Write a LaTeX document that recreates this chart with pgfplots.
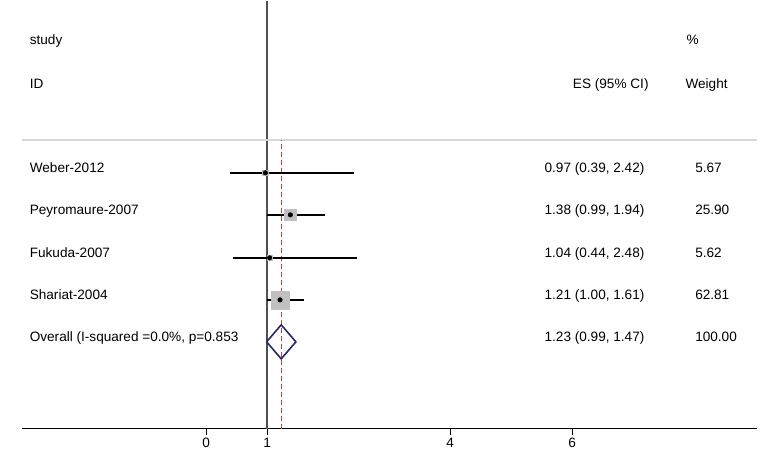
\documentclass[border=0pt]{standalone}
\usepackage{fontspec}
\setmainfont{Liberation Sans}
\usepackage{pgfplots}
\pgfplotsset{compat=1.18}
\usepackage{pgfplotstable}

\definecolor{boxgrey}{RGB}{192,192,192}
\definecolor{refline}{RGB}{80,80,80}
\definecolor{dashred}{RGB}{175,70,70}
\definecolor{diamond}{RGB}{40,40,100}
\definecolor{sepgrey}{RGB}{215,215,215}

\newcommand\fs{\fontsize{13.6pt}{16pt}\selectfont}

% studies: row height, estimate, 95% CI, weight
\pgfplotstableread{
y   es   lo   hi   w
256 0.97 0.39 2.42 5.67
214 1.38 0.99 1.94 25.90
171 1.04 0.44 2.48 5.62
129 1.21 1.00 1.61 62.81
}\studies

\begin{document}
\begin{tikzpicture}
\begin{axis}[
    scale only axis,
    width=735pt, height=428pt,
    xmin=-3.02, xmax=9.03,
    ymin=0, ymax=428,
    axis x line*=bottom,
    axis y line=none,
    xtick={0,1,4,6},
    tick align=outside,
    major tick length=6pt,
    x axis line style={black, line width=1pt},
    every tick/.style={black, line width=1pt},
    xticklabel style={font=\fs},
    /pgf/number format/assume math mode=true,
    clip=false,
]
% reference line at 1 and separator
\addplot[refline, line width=1.7pt] coordinates {(1,0) (1,428)};
\addplot[sepgrey, line width=1.5pt] coordinates {(-3.02,289) (9.03,289)};

% weight boxes
\addplot[only marks, mark=square*, scatter,
    scatter/use mapped color={draw=boxgrey, fill=boxgrey},
    visualization depends on={1.135*sqrt(\thisrow{w}) \as \msz},
    scatter/@pre marker code/.append style={/tikz/mark size=\msz}]
    table[x=es, y=y] {\studies};

% overall estimate
\addplot[dashred, line width=1.1pt, dash pattern=on 4.5pt off 3.5pt] coordinates {(1.23,0) (1.23,289)};

% confidence intervals
\addplot[draw=none, mark=none, black,
    error bars/.cd, x dir=both, x explicit, error mark=none,
    error bar style={black, line width=1.6pt}]
    table[x=es, y=y,
          x error plus expr=\thisrow{hi}-\thisrow{es},
          x error minus expr=\thisrow{es}-\thisrow{lo}] {\studies};

% point estimates
\addplot[only marks, mark=*, mark size=2.3pt, black] table[x=es, y=y] {\studies};

% overall diamond
\addplot[diamond, line width=1.6pt, line join=miter]
    coordinates {(0.99,87) (1.23,104) (1.47,87) (1.23,70) (0.99,87)};

% header and labels
\node[font=\fs, anchor=base west] at (axis cs:-2.95,384) {study};
\node[font=\fs, anchor=base west] at (axis cs:-2.95,340) {ID};
\node[font=\fs, anchor=base east] at (axis cs:7.31,340) {ES (95\% CI)};
\node[font=\fs, anchor=base west] at (axis cs:7.82,384) {\%};
\node[font=\fs, anchor=base west] at (axis cs:7.80,340) {Weight};

\node[font=\fs, anchor=base west] at (axis cs:-2.95,256) {Weber-2012};
\node[font=\fs, anchor=base west] at (axis cs:-2.95,214) {Peyromaure-2007};
\node[font=\fs, anchor=base west] at (axis cs:-2.95,171) {Fukuda-2007};
\node[font=\fs, anchor=base west] at (axis cs:-2.95,129) {Shariat-2004};
\node[font=\fs, anchor=base west] at (axis cs:-2.95,87) {Overall (I-squared =0.0\%, p=0.853};

\node[font=\fs, anchor=base west] at (axis cs:5.49,256) {0.97 (0.39, 2.42)};
\node[font=\fs, anchor=base west] at (axis cs:5.49,214) {1.38 (0.99, 1.94)};
\node[font=\fs, anchor=base west] at (axis cs:5.49,171) {1.04 (0.44, 2.48)};
\node[font=\fs, anchor=base west] at (axis cs:5.49,129) {1.21 (1.00, 1.61)};
\node[font=\fs, anchor=base west] at (axis cs:5.49,87) {1.23 (0.99, 1.47)};

\node[font=\fs, anchor=base west] at (axis cs:7.96,256) {5.67};
\node[font=\fs, anchor=base west] at (axis cs:7.96,214) {25.90};
\node[font=\fs, anchor=base west] at (axis cs:7.96,171) {5.62};
\node[font=\fs, anchor=base west] at (axis cs:7.96,129) {62.81};
\node[font=\fs, anchor=base west] at (axis cs:7.96,87) {100.00};
\end{axis}
\path (current axis.south west) ++(-22pt,-31pt) (current axis.north east) ++(18pt,0pt);
\end{tikzpicture}
\end{document}
